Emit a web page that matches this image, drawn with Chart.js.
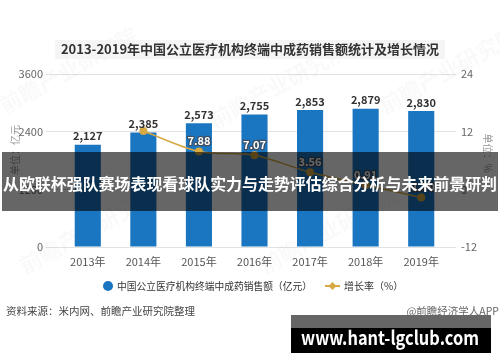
<!DOCTYPE html>
<html>
<head>
<meta charset="utf-8">
<script src="https://cdn.jsdelivr.net/npm/chart.js@4.4.1/dist/chart.umd.min.js"></script>
<style>
  html, body { margin: 0; padding: 0; background: #fff; }
  canvas { display: block; }
</style>
</head>
<body>
<canvas id="chart" width="500" height="362"></canvas>
<script>
// ======== Data ========
const years = ["2013年", "2014年", "2015年", "2016年", "2017年", "2018年", "2019年"];
const sales = [2127, 2385, 2573, 2755, 2853, 2879, 2830];          // 亿元
const growth = [null, 12.13, 7.88, 7.07, 3.56, 0.91, -1.70];       // %
const leftTicks = [0, 1200, 2400, 3600];
const rightTicks = [-12, 0, 12, 24];

const FONT = '"Noto Sans CJK SC", "Noto Sans", sans-serif';
const BLUE = "#1b76c2";
const GOLD = "#d6a943";

// ======== Labels on bars and points ========
const valueLabels = {
    id: "valueLabels",
    afterDatasetsDraw(chart) {
        const ctx = chart.ctx;
        ctx.save();
        ctx.textAlign = "center";
        ctx.textBaseline = "bottom";

        // bar values
        ctx.font = "bold 11px " + FONT;
        ctx.fillStyle = "#333";
        chart.getDatasetMeta(0).data.forEach((bar, i) => {
            ctx.fillText(sales[i].toLocaleString("en-US"), bar.x, bar.y - 3);
        });

        // growth values (2014 label sits under the bar label in the original)
        ctx.lineJoin = "round";
        chart.getDatasetMeta(1).data.forEach((pt, i) => {
            if (growth[i] === null || i === 1) return;
            const txt = growth[i].toFixed(2);
            ctx.lineWidth = 2.5;
            ctx.strokeStyle = "#3d4f63";
            ctx.strokeText(txt, pt.x, pt.y - 5);
            ctx.fillStyle = "#fff";
            ctx.fillText(txt, pt.x, pt.y - 5);
        });
        ctx.restore();
    }
};

// ======== Title, legend, notes and overlays ========
const decorations = {
    id: "decorations",
    beforeDatasetsDraw(chart) {
        // faint watermarks behind the marks
        const ctx = chart.ctx;
        ctx.save();
        ctx.fillStyle = "rgba(0,0,0,0.025)";
        ctx.font = "bold 22px " + FONT;
        [[40, 95], [250, 110], [420, 95], [60, 255], [300, 255]].forEach(([x, y]) => {
            ctx.save();
            ctx.translate(x, y);
            ctx.rotate(-0.5);
            ctx.fillText("前瞻产业研究院", -40, 0);
            ctx.restore();
        });
        ctx.restore();
    },
    afterDraw(chart) {
        const ctx = chart.ctx;
        ctx.save();

        // title
        ctx.fillStyle = "#f5f5f5";
        ctx.fillRect(55, 40, 390, 19);
        ctx.fillStyle = "#333";
        ctx.font = "bold 13px " + FONT;
        ctx.textAlign = "center";
        ctx.textBaseline = "middle";
        ctx.fillText("2013-2019年中国公立医疗机构终端中成药销售额统计及增长情况", 250, 49, 386);

        // axis units
        ctx.fillStyle = "#999";
        ctx.font = "10px " + FONT;
        ctx.save();
        ctx.translate(15, 150);
        ctx.rotate(-Math.PI / 2);
        ctx.fillText("单位：亿元", 0, 0);
        ctx.restore();
        ctx.save();
        ctx.translate(488, 153);
        ctx.rotate(Math.PI / 2);
        ctx.fillText("单位：%", 0, 0);
        ctx.restore();

        // legend
        ctx.textAlign = "left";
        ctx.fillStyle = BLUE;
        ctx.beginPath();
        ctx.arc(108, 286, 5, 0, Math.PI * 2);
        ctx.fill();
        ctx.fillStyle = "#333";
        ctx.font = "10px " + FONT;
        ctx.fillText("中国公立医疗机构终端中成药销售额（亿元）", 117, 286, 195);
        ctx.strokeStyle = GOLD;
        ctx.lineWidth = 2;
        ctx.beginPath();
        ctx.moveTo(325, 286);
        ctx.lineTo(340, 286);
        ctx.stroke();
        ctx.fillStyle = GOLD;
        ctx.beginPath();
        ctx.moveTo(332.5, 282);
        ctx.lineTo(336.5, 286);
        ctx.lineTo(332.5, 290);
        ctx.lineTo(328.5, 286);
        ctx.closePath();
        ctx.fill();
        ctx.fillStyle = "#333";
        ctx.fillText("增长率（%）", 344, 286);

        // source notes
        ctx.fillStyle = "#444";
        ctx.font = "10.5px " + FONT;
        ctx.fillText("资料来源：米内网、前瞻产业研究院整理", 6, 311);
        ctx.textAlign = "right";
        ctx.fillStyle = "#666";
        ctx.fillText("@前瞻经济学人APP", 499, 311);

        // dark band with headline
        ctx.fillStyle = "rgba(0,0,0,0.6)";
        ctx.fillRect(2, 152, 496, 59);
        ctx.fillStyle = "#fff";
        ctx.textAlign = "center";
        ctx.font = "bold 16px " + FONT;
        ctx.fillText("从欧联杯强队赛场表现看球队实力与走势评估综合分析与未来前景研判", 250, 184, 494);

        // url badge
        ctx.fillStyle = "#666";
        ctx.fillRect(291, 315, 200, 13);
        ctx.fillStyle = "#000";
        ctx.fillRect(291, 328, 200, 25);
        ctx.fillStyle = "#fff";
        ctx.font = "bold 19px " + FONT;
        ctx.fillText("www.hant-lgclub.com", 390, 338, 178);

        ctx.restore();
    }
};

// ======== Chart ========
const ctx = document.getElementById("chart").getContext("2d");
const chart = new Chart(ctx, {
    data: {
        labels: years,
        datasets: [
            {
                type: "bar",
                label: "中国公立医疗机构终端中成药销售额（亿元）",
                data: sales,
                yAxisID: "y",
                backgroundColor: BLUE,
                barPercentage: 0.47,
                categoryPercentage: 1,
                order: 2
            },
            {
                type: "line",
                label: "增长率（%）",
                data: growth,
                yAxisID: "y1",
                borderColor: GOLD,
                backgroundColor: GOLD,
                borderWidth: 1.5,
                pointRadius: 4,
                pointBackgroundColor: GOLD,
                pointBorderWidth: 0,
                tension: 0.3,
                order: 1
            }
        ]
    },
    options: {
        responsive: false,
        animation: false,
        devicePixelRatio: 1,
        layout: { padding: { top: 74, bottom: 95, left: 0, right: 0 } },
        plugins: {
            legend: { display: false },
            title: { display: false },
            tooltip: { enabled: false }
        },
        scales: {
            x: {
                grid: { display: false },
                border: { display: false },
                ticks: { color: "#555", font: { size: 11, family: FONT }, padding: 0 },
                afterFit(scale) { scale.height = 20; }
            },
            y: {
                position: "left",
                min: 0,
                max: 3600,
                afterBuildTicks(scale) { scale.ticks = leftTicks.map(v => ({ value: v })); },
                grid: { color: "#e2e2e2", tickLength: 14, tickColor: "#e2e2e2" },
                border: { display: false },
                ticks: {
                    color: "#666",
                    font: { size: 11, family: FONT },
                    padding: 3,
                    callback: v => String(v)
                },
                afterFit(scale) { scale.width = 60; }
            },
            y1: {
                position: "right",
                min: -12,
                max: 24,
                afterBuildTicks(scale) { scale.ticks = rightTicks.map(v => ({ value: v })); },
                grid: { drawOnChartArea: false, tickLength: 7, color: "#e2e2e2" },
                border: { display: false },
                ticks: {
                    color: "#666",
                    font: { size: 11, family: FONT },
                    padding: 5,
                    callback: v => String(v)
                },
                afterFit(scale) { scale.width = 51; }
            }
        }
    },
    plugins: [valueLabels, decorations]
});
</script>
</body>
</html>
